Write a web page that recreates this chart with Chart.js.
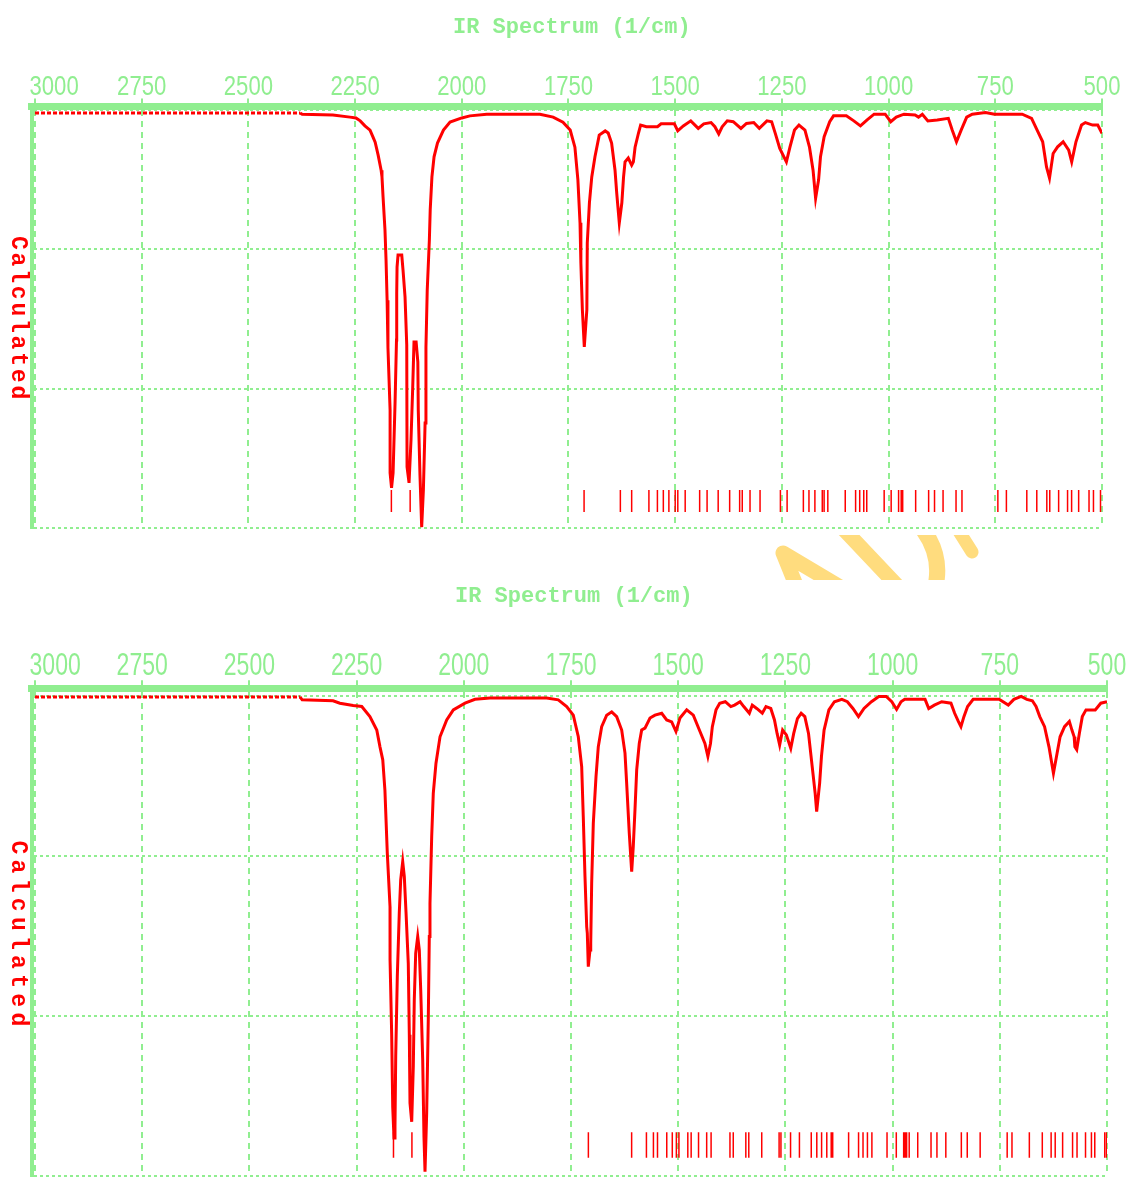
<!DOCTYPE html>
<html>
<head>
<meta charset="utf-8">
<title>IR Spectrum (1/cm)</title>
<script src="https://cdn.jsdelivr.net/npm/chart.js@4.4.1/dist/chart.umd.min.js"></script>
<style>
  html, body { margin: 0; padding: 0; background: #fff; }
  #page { position: relative; width: 1132px; height: 1181px; overflow: hidden; }
  #page canvas { position: absolute; left: 0; }
  #mark { position: absolute; left: 0; top: 0; }
  .title {
    position: absolute;
    font-family: "Liberation Mono", "DejaVu Sans Mono", monospace;
    font-weight: bold;
    font-size: 22px;
    line-height: 22px;
    color: #90ee90;
    white-space: nowrap;
  }
  .side {
    position: absolute;
    writing-mode: vertical-rl;
    font-family: "Liberation Mono", "DejaVu Sans Mono", monospace;
    font-weight: bold;
    font-size: 23px;
    line-height: 23px;
    color: #ff0000;
    white-space: nowrap;
    transform: translateY(-50%);
  }
</style>
</head>
<body>
<div id="page">
  <svg id="mark" width="1132" height="1181">
    <defs><clipPath id="band"><rect x="0" y="535" width="1132" height="45"/></clipPath></defs>
    <g clip-path="url(#band)" fill="none" stroke="#ffdc7e" stroke-linecap="round" stroke-linejoin="round">
      <path d="M 802 600 L 783 553 L 862 600" stroke-width="15"/>
      <path d="M 835 520 L 905 594" stroke-width="15"/>
      <path d="M 915 520 Q 948 555 932 598" stroke-width="16"/>
      <path d="M 955 525 L 972 552" stroke-width="13"/>
    </g>
  </svg>
  <canvas id="irTop" width="1132" height="545" style="top:0"></canvas>
  <canvas id="irBottom" width="1132" height="621" style="top:560px"></canvas>
  <div class="title" style="left:453px; top:17px">IR Spectrum (1/cm)</div>
  <div class="title" style="left:455px; top:586px">IR Spectrum (1/cm)</div>
  <div class="side" style="left:6px; top:319px; letter-spacing:2.8px">Calculated</div>
  <div class="side" style="left:6px; top:936px; letter-spacing:5.3px">Calculated</div>
</div>
<script>
// wavenumber axis labels (1/cm)
const tickValues = [3000, 2750, 2500, 2250, 2000, 1750, 1500, 1250, 1000, 750, 500];
// horizontal grid levels, transmittance %
const gridLevels = [0, 100 / 3, 200 / 3, 100];

// upper spectrum
const topWavenumbers = [
  3000, 2379, 2374, 2302, 2262, 2248, 2238, 2227, 2215, 2208, 2203, 2196, 2189, 2187, 2184.5, 2180,
  2177.5, 2175, 2173, 2168, 2168, 2164.6, 2161, 2156.4, 2153, 2152.5, 2151.7, 2149.4, 2140.7, 2137.7,
  2133, 2129, 2128.3, 2123.6, 2119, 2115, 2112, 2107, 2103, 2102, 2098, 2094, 2090, 2086, 2084, 2081,
  2076, 2074, 2070, 2065, 2057, 2043, 2027.5, 2000, 1981, 1941.5, 1817, 1786, 1763, 1746, 1735, 1728,
  1723, 1721, 1717.5, 1713, 1707, 1706, 1701, 1695.5, 1688, 1678, 1664, 1657, 1649, 1641, 1637, 1631,
  1625, 1621, 1617.5, 1610, 1602, 1598, 1594, 1586, 1581, 1567.5, 1541.5, 1533, 1502, 1494, 1481,
  1463.5, 1446, 1433, 1416, 1407, 1398, 1390, 1378, 1364, 1346, 1333, 1316, 1303, 1285, 1274, 1265.5,
  1255, 1239.5, 1231, 1220.5, 1210, 1196, 1185.5, 1177, 1171, 1164, 1159.6, 1151, 1138, 1129, 1099,
  1081.5, 1066, 1051, 1034, 1008, 995, 982, 964, 938, 930, 921, 908, 886, 860, 851, 841, 830, 817, 804,
  773, 752, 687, 665, 652, 639, 630, 623, 614.5, 604, 591, 578, 571, 561, 548, 539, 522, 510, 500
];
const topTransmittance = [
  99.3, 99.3, 99.0, 98.8, 98.3, 98.1, 97.4, 96.2, 95.2, 93.5, 92.3, 89.2, 85.6, 84.0, 79.2, 71.3,
  64.1, 54.5, 43.1, 28.2, 13.2, 9.6, 13.2, 29.9, 45.0, 56.2, 62.4, 65.3, 65.3, 61.7,
  55.3, 43.8, 14.6, 10.8, 21.1, 33.7, 44.5, 44.5, 39.7, 28.2, 12.7, 0.2, 9.1, 25.1, 43.3, 56.9,
  68.9, 76.1, 84.0, 88.8, 92.1, 95.2, 97.1, 98.1, 98.6, 99.0, 99.0, 98.3, 97.1, 95.2, 91.1, 83.3,
  73.0, 63.4, 52.2, 43.3, 52.2, 68.2, 77.8, 84.0, 88.8, 94.0, 95.0, 94.5, 92.1, 85.6, 80.1, 73.0,
  77.8, 84.0, 87.6, 88.5, 86.8, 87.6, 91.1, 94.5, 96.4, 96.0, 96.0, 96.7, 96.7, 95.0, 96.2,
  97.4, 95.6, 96.7, 97.0, 96.0, 94.3, 96.0, 97.4, 97.2, 95.6, 96.8, 97.0, 95.6, 97.4, 97.2, 94.4,
  90.8, 87.6, 91.2, 95.2, 96.4, 95.2, 91.2, 85.6, 78.9, 83.3, 88.8, 93.6, 97.2, 98.6, 98.6,
  97.4, 96.2, 97.6, 99.0, 99.0, 97.2, 98.3, 99.0, 98.8, 98.3, 99.0, 97.4, 97.6, 98.0, 95.2, 92.4, 95.2, 98.3, 99.0,
  99.4, 99.0, 99.0, 98.0, 95.2, 92.4, 86.4, 83.7, 89.6, 91.2, 92.4, 90.4, 87.6, 92.4, 96.4, 97.0, 96.4, 96.4, 94.4
];
const topSticks = [
  2165, 2121, 1713.5, 1628.5, 1602, 1561.6, 1541.7, 1527.8, 1514.8, 1500, 1493.9, 1476.6, 1442.7,
  1425.3, 1399.3, 1372.4, 1349, 1342.9, 1324.7, 1301.2, 1253.5, 1237.8, 1199.7, 1186.6, 1172.7,
  1155.4, 1151.1, 1142.4, 1101.6, 1077.3, 1067.7, 1058.2, 1051.2, 1010.4, 994, 976.6, 970.5, 967,
  936.6, 906.2, 892.4, 872.4, 842, 828.1, 744, 724, 676.2, 652.8, 629.3, 622.4, 601.6, 580.7, 571.2,
  554.7, 530.4, 520, 503.5
];

// lower spectrum
const bottomWavenumbers = [
  3000, 2382, 2377, 2305, 2289, 2258, 2238, 2219, 2203, 2195.5, 2189, 2184, 2178.4, 2172.1, 2172,
  2168.2, 2165.8, 2162.8, 2160.5, 2158.8, 2155.1, 2150.5, 2147.2, 2142.5, 2138.8, 2134.8, 2129.5,
  2127.1, 2125.5, 2121.5, 2117.8, 2115.5, 2112.2, 2107.5, 2103.8, 2100.5, 2095.9, 2092.9, 2090.5,
  2086.6, 2082.8, 2080.5, 2078.9, 2074.9, 2071.2, 2064.9, 2055.5, 2039.9, 2024.5, 1997.2, 1973.9,
  1938.9, 1806.7, 1779.7, 1760.1, 1744.7, 1733, 1725.1, 1721.4, 1717.4, 1713.4, 1712, 1709.7, 1705.7,
  1704, 1701.8, 1698, 1691.7, 1686.4, 1678.5, 1666.8, 1655.1, 1643.5, 1631.8, 1624.1, 1620.2, 1614.1,
  1608.5, 1604.8, 1600.8, 1596.8, 1590.8, 1585.2, 1577.5, 1565.8, 1554.2, 1538.5, 1526.9, 1515.2,
  1505.2, 1495.9, 1480.2, 1464.8, 1449.2, 1437.7, 1430.8, 1424.7, 1420.4, 1411.8, 1403.2, 1390.2,
  1377.3, 1368.6, 1355.7, 1347.1, 1334.1, 1327.2, 1316.9, 1303.9, 1295.3, 1284.1, 1275.5, 1269.4,
  1263.4, 1256.5, 1247.8, 1237.5, 1230.6, 1222, 1213.3, 1204.7, 1196.1, 1187.5, 1180.6, 1177.1,
  1170.2, 1165.9, 1159.8, 1148.6, 1135.7, 1118.4, 1105.5, 1092.5, 1079.6, 1066.7, 1049.4, 1032.2,
  1014.9, 1001.9, 990.7, 980.4, 971.8, 924.3, 915.7, 902.7, 885.5, 863.9, 855.3, 846.7, 840.6, 833.7,
  825.1, 812.1, 751.7, 730.2, 717.2, 700, 687, 674.1, 665.5, 656.8, 645.6, 635.3, 624.9, 616.3, 609.4,
  599, 587.8, 581.8, 576.6, 574.9, 570.6, 564.5, 557.6, 549, 527.4, 514.5, 500
];
const bottomTransmittance = [
  99.8, 99.8, 99.2, 99.0, 98.5, 98.0, 97.8, 95.7, 92.9, 89.4, 86.7, 80.4, 67.2, 56.1, 45.0,
  29.4, 14.4, 7.9, 10.3, 24.9, 41.5, 54.8, 61.7, 65.5, 62.4, 55.0, 44.3,
  29.4, 15.2, 11.3, 22.8, 36.7, 46.4, 49.9, 47.1, 38.8, 24.2, 8.2, 0.9,
  13.1, 32.9, 49.9, 56.8, 70.7, 79.7, 86.0, 91.5, 95.0, 97.1, 98.5, 99.3,
  99.6, 99.6, 99.2, 97.8, 96.0, 91.5, 85.3, 74.9, 62.4, 51.9, 50.6, 43.6, 47.1,
  48.5, 61.0, 73.5, 83.2, 89.4, 93.6, 96.0, 96.7, 95.7, 92.9, 88.1, 81.8, 71.4,
  63.4, 68.6, 76.3, 84.6, 90.1, 92.9, 93.3, 95.4, 96.0, 96.4, 95.0, 94.6,
  92.6, 95.4, 97.1, 96.0, 92.6, 90.1, 87.4, 90.1, 93.6, 97.1, 98.5, 98.8,
  97.8, 98.1, 98.8, 97.8, 96.4, 98.1, 97.4, 96.4, 97.8, 97.4, 95.0, 92.2,
  89.8, 92.9, 91.9, 89.1, 92.2, 95.3, 96.4, 95.7, 92.2, 85.3, 79.7, 75.9,
  81.8, 87.4, 92.9, 97.1, 98.8, 99.3, 98.8, 97.4, 95.7, 97.4, 98.8, 99.9,
  99.9, 98.8, 97.2, 98.8, 99.3, 99.3, 97.4, 98.1, 98.8, 98.5, 96.4, 94.7, 93.6, 95.7,
  97.8, 99.3, 99.3, 98.1, 99.3, 99.9, 99.3, 99.0, 97.8, 95.7, 93.6, 89.4, 83.9, 88.1, 91.5,
  93.6, 94.7, 92.9, 91.5, 89.4, 88.8, 92.2, 95.7, 97.1, 97.1, 98.5, 98.8
];
const bottomSticks = [
  2164, 2121, 1709.5, 1608.6, 1574.1, 1557.8, 1548.3, 1526.7, 1513.8, 1504.3, 1498.3, 1477.6,
  1469.8, 1452.6, 1433.6, 1423.3, 1379.3, 1371.6, 1342.3, 1335.4, 1305.2, 1264.7, 1260.4, 1238,
  1217.3, 1189.7, 1176.8, 1165.6, 1153.5, 1143.2, 1139.7, 1102.6, 1079.4, 1069, 1058.7, 1048.3, 1013,
  991.4, 974.2, 970.8, 967.3, 961.3, 941.4, 910.4, 896.6, 875.9, 839.7, 825.9, 795.8, 732.8, 721.6,
  681.1, 650.9, 630.3, 620.8, 603.5, 580.3, 569.9, 550.1, 536.3, 528.5, 505.3, 501
];

// calculated band markers span this transmittance range
const STICK_LOW = 3.8;
const STICK_HIGH = 9.1;

const GREEN = '#90ee90';
const RED = '#ff0000';
const TICK_FONT = '"Liberation Sans", Arial, sans-serif';

function toPoints(xs, ys) {
  return xs.map((x, i) => ({ x: x, y: ys[i] }));
}

function stickPoints(xs) {
  const pts = [];
  xs.forEach(x => {
    pts.push({ x: x, y: STICK_LOW }, { x: x, y: STICK_HIGH }, { x: x, y: null });
  });
  return pts;
}

// narrow, tall wavenumber labels placed at the x scale's tick pixels
const wavenumberLabels = {
  id: 'wavenumberLabels',
  afterDraw(chart, args, opts) {
    const scale = chart.scales.x;
    const ctx = chart.ctx;
    ctx.save();
    ctx.fillStyle = GREEN;
    ctx.font = opts.size + 'px ' + TICK_FONT;
    ctx.textAlign = 'center';
    ctx.textBaseline = 'alphabetic';
    scale.ticks.forEach(t => {
      const label = String(t.value);
      const w = ctx.measureText(label).width * opts.squeeze;
      let x = scale.getPixelForValue(t.value);
      if (t.value === tickValues[0]) x = chart.chartArea.left - 2 + w / 2;
      ctx.save();
      ctx.translate(x, opts.baseline);
      ctx.scale(opts.squeeze, 1);
      ctx.fillText(label, 0, 0);
      ctx.restore();
    });
    ctx.restore();
  }
};

function drawSpectrum(id, wn, tr, sticks, frame) {
  return new Chart(document.getElementById(id), {
    type: 'line',
    data: {
      datasets: [
        {
          data: toPoints(wn, tr),
          borderColor: RED,
          borderWidth: 3,
          pointRadius: 0,
          tension: 0,
          segment: {
            // flat baseline before the first band is plotted dotted
            borderDash: ctx => (ctx.p0.parsed.x > 2378 && ctx.p1.parsed.x > 2378) ? [4, 2] : undefined
          }
        },
        {
          data: stickPoints(sticks),
          borderColor: RED,
          borderWidth: 1.5,
          pointRadius: 0,
          spanGaps: false
        }
      ]
    },
    plugins: [wavenumberLabels],
    options: {
      responsive: false,
      animation: false,
      devicePixelRatio: 1,
      events: [],
      layout: { padding: frame.padding },
      plugins: {
        legend: { display: false },
        tooltip: { enabled: false },
        wavenumberLabels: frame.labels
      },
      scales: {
        x: {
          type: 'linear',
          position: 'top',
          reverse: true,
          min: 500,
          max: frame.xMax,
          afterBuildTicks: s => { s.ticks = tickValues.map(v => ({ value: v })); },
          afterFit: s => { s.height = frame.axisHeight; },
          ticks: { display: false },
          grid: {
            color: GREEN,
            lineWidth: 2,
            tickLength: 8,
            tickColor: GREEN,
            tickWidth: 2,
            tickBorderDash: []
          },
          border: { display: true, color: GREEN, width: 7, dash: [6, 5] }
        },
        y: {
          min: 0,
          max: frame.yMax,
          afterBuildTicks: s => { s.ticks = gridLevels.map(v => ({ value: v })); },
          afterFit: s => { s.width = 0; },
          ticks: { display: false },
          grid: { color: GREEN, lineWidth: 2, drawTicks: false },
          border: { display: true, color: GREEN, width: 4, dash: [3, 3] }
        }
      }
    }
  });
}

drawSpectrum('irTop', topWavenumbers, topTransmittance, topSticks, {
  padding: { left: 31.5, right: 30, top: 0, bottom: 17 },
  axisHeight: 106.5,
  xMax: 3008.2,
  yMax: 100.84,
  labels: { size: 28, squeeze: 0.79, baseline: 95 }
});

drawSpectrum('irBottom', bottomWavenumbers, bottomTransmittance, bottomSticks, {
  padding: { left: 31.5, right: 25, top: 0, bottom: 5 },
  axisHeight: 128.3,
  xMax: 3008.2,
  yMax: 101.6,
  labels: { size: 32, squeeze: 0.72, baseline: 115 }
});
</script>
</body>
</html>
